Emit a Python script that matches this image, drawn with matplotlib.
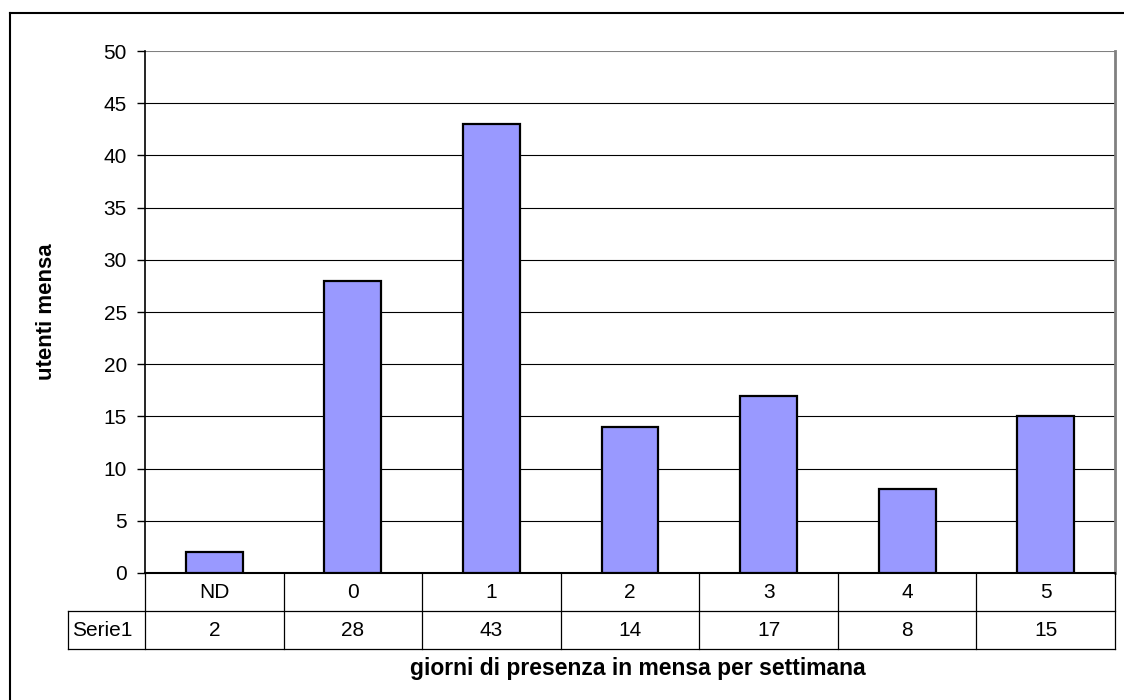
import matplotlib.pyplot as plt
from matplotlib.lines import Line2D

plt.rcParams["font.family"] = ["Liberation Sans", "DejaVu Sans"]

categories = ["ND", "0", "1", "2", "3", "4", "5"]
serie1 = [2, 28, 43, 14, 17, 8, 15]
series_name = "Serie1"
y_ticks = [0, 5, 10, 15, 20, 25, 30, 35, 40, 45, 50]

fig = plt.figure(figsize=(11.24, 7.0), dpi=100)
ax = fig.add_axes([145 / 1124, 127 / 700, 970 / 1124, 522 / 700])

x = list(range(len(categories)))
ax.bar(x, serie1, width=0.41, color="#9999FF", edgecolor="black", linewidth=1.6, zorder=3)

ax.set_xlim(-0.5, len(categories) - 0.5)
ax.set_ylim(0, 50)
ax.set_yticks(y_ticks)
ax.tick_params(axis="y", direction="out", length=6, width=1, labelsize=15, pad=7)
ax.set_xticks([])

for t in y_ticks[1:-1]:
    ax.axhline(t, color="black", linewidth=0.8, zorder=1)
ax.axhline(50, color="#808080", linewidth=1.5, zorder=1)

for side in ["top", "right"]:
    ax.spines[side].set_visible(False)
ax.spines["left"].set_linewidth(1.2)
ax.spines["bottom"].set_linewidth(1.5)
ax.plot([1, 1], [0, 1], transform=ax.transAxes, color="#808080", linewidth=2, clip_on=False)

# data table below the axis
row_h = 38 / 522
label_left = -77 / 970
tr = ax.get_xaxis_transform()
lw = 0.9
for y in [-row_h, -2 * row_h]:
    ax.plot([label_left, 1], [y, y], transform=ax.transAxes,
            color="black", linewidth=lw, clip_on=False)
ax.plot([label_left, label_left], [-row_h, -2 * row_h], transform=ax.transAxes,
        color="black", linewidth=lw, clip_on=False)
for b in range(len(categories) + 1):
    ax.plot([b - 0.5, b - 0.5], [0, -2 * row_h], transform=tr,
            color="black", linewidth=lw, clip_on=False)

for i, (cat, val) in enumerate(zip(categories, serie1)):
    ax.text(i, -row_h / 2, cat, transform=tr, ha="center", va="center", fontsize=15)
    ax.text(i, -1.5 * row_h, str(val), transform=tr, ha="center", va="center", fontsize=15)
ax.text(label_left + 4 / 970, -1.5 * row_h, series_name, transform=ax.transAxes,
        ha="left", va="center", fontsize=15)

ax.set_ylabel("utenti mensa", fontsize=16, fontweight="bold")
ax.yaxis.set_label_coords(-88 / 970, 0.5)
fig.text(638 / 1124, 1 - 668 / 700, "giorni di presenza in mensa per settimana",
         ha="center", va="center", fontsize=16.5, fontweight="bold")

# outer chart border
fig.add_artist(Line2D([10 / 1124, 10 / 1124], [1 - 13 / 700, 0], transform=fig.transFigure,
                      color="black", linewidth=1.5))
fig.add_artist(Line2D([10 / 1124, 1], [1 - 13 / 700, 1 - 13 / 700], transform=fig.transFigure,
                      color="black", linewidth=1.5))

fig.savefig("out.png", dpi=100)
